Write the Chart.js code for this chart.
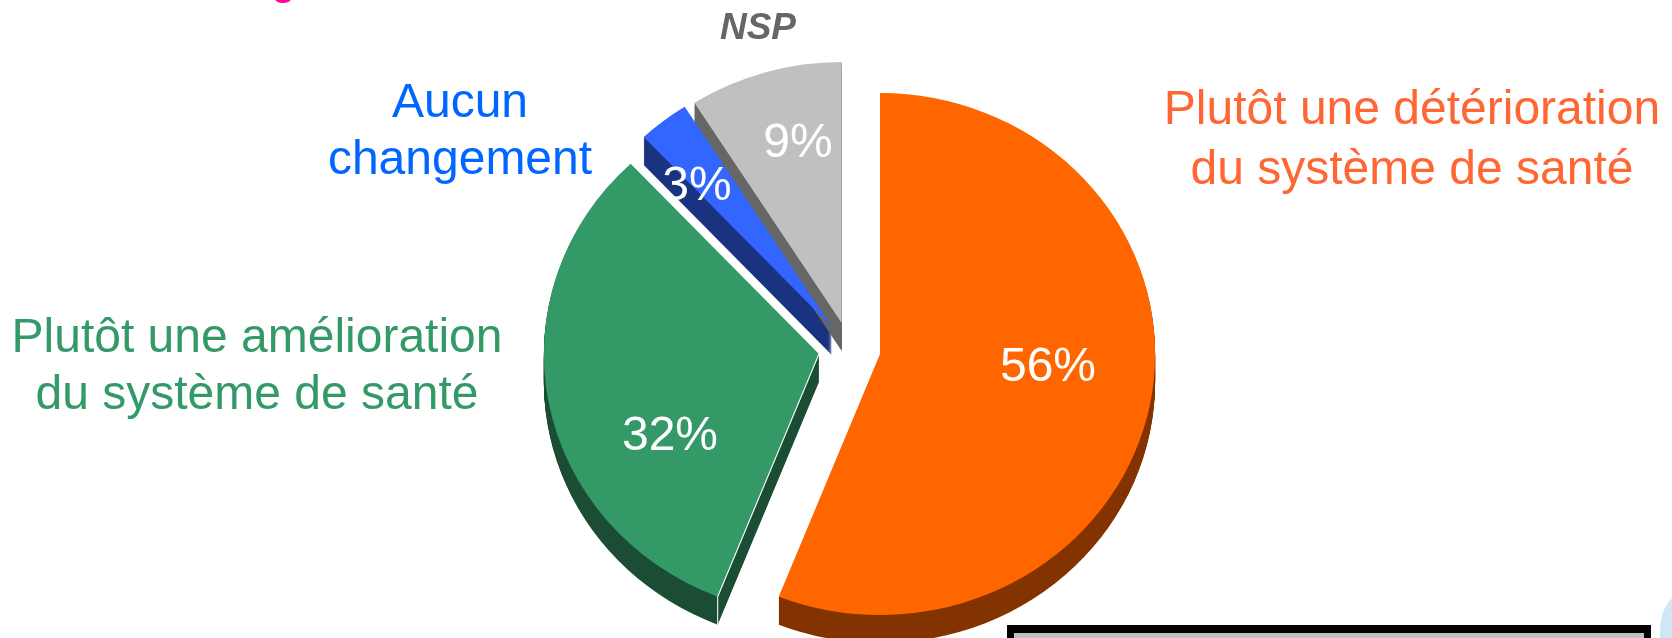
<!DOCTYPE html>
<html>
<head>
<meta charset="utf-8">
<style>
  html, body { margin: 0; padding: 0; background: #fff; overflow: hidden; }
  #wrap { position: relative; width: 1672px; height: 638px; overflow: hidden; }
  #box { position: absolute; left: 1007px; top: 625px; width: 630px; height: 30px; background: #bfbfbf; border: 7px solid #000; border-top-width: 8px; }
  #blob { position: absolute; left: 1660px; top: 590px; width: 50px; height: 120px; background: #cfe6f7; border-top-left-radius: 30px 40px; }
  #mark { position: absolute; left: 275px; top: -6px; width: 16px; height: 9px; background: #ff0099; border-radius: 50%; }
</style>
</head>
<body>
<div id="wrap">
  <canvas id="pie" width="1672" height="638"></canvas>
  <div id="box"></div>
  <div id="blob"></div>
  <div id="mark"></div>
</div>
<script src="https://cdn.jsdelivr.net/npm/chart.js@4"></script>
<script>
const categories = ["Plutôt une détérioration du système de santé", "Plutôt une amélioration du système de santé", "Aucun changement", "NSP"];
const values = [56, 32, 3, 9];
const sliceColors = ["#ff6600", "#339966", "#3366ff", "#c0c0c0"];
const wallColors = ["#833300", "#1a4d33", "#1a3380", "#666666"];
const sliceOffsets = [118, 118, 108, 106];

const FONT = '"Liberation Sans", Arial, sans-serif';
const STRETCH = 1.054;
const DEPTH = 28;

const captions = [
  { lines: ["Plutôt une détérioration", "du système de santé"], x: 1412, y: [111, 171], color: "#ff6633", font: "48px " + FONT },
  { lines: ["Plutôt une amélioration", "du système de santé"], x: 257, y: [339, 396], color: "#339966", font: "48px " + FONT },
  { lines: ["Aucun", "changement"], x: 460, y: [104, 161], color: "#0066ff", font: "48px " + FONT },
  { lines: ["NSP"], x: 758, y: [29], color: "#666666", font: "italic bold 37px " + FONT },
];
const percentSpots = [
  { x: 1048, y: 368 },
  { x: 670, y: 437 },
  { x: 697, y: 187 },
  { x: 798, y: 144 },
];

// the pie is a bit wider than tall in the original, and has a dropped wall
const tiltedPie = {
  id: "tiltedPie",
  beforeDatasetsDraw(chart) {
    const { ctx } = chart;
    const arcs = chart.getDatasetMeta(0).data;
    ctx.save();
    ctx.translate(arcs[0].x, 0);
    ctx.scale(STRETCH, 1);
    ctx.translate(-arcs[0].x, 0);
    arcs.forEach((arc, i) => {
      // ArcElement grows and narrows an offset slice depending on circumference, a quarter turn switches that off
      arc.circumference = Math.PI / 2;
      const off = arc.options.offset / 4;
      const mid = (arc.startAngle + arc.endAngle) / 2;
      const x = arc.x + Math.cos(mid) * off;
      const y = arc.y + Math.sin(mid) * off;
      ctx.fillStyle = wallColors[i];
      for (let d = 1; d <= DEPTH; d++) {
        ctx.beginPath();
        ctx.moveTo(x, y + d);
        ctx.arc(x, y + d, arc.outerRadius, arc.startAngle, arc.endAngle);
        ctx.closePath();
        ctx.fill();
      }
    });
  },
  afterDatasetsDraw(chart) {
    const { ctx } = chart;
    // thin white seam on the cut edge of the green slice
    const green = chart.getDatasetMeta(0).data[1];
    const off = green.options.offset / 4;
    const mid = (green.startAngle + green.endAngle) / 2;
    const gx = green.x + Math.cos(mid) * off;
    const gy = green.y + Math.sin(mid) * off;
    const ex = gx + Math.cos(green.startAngle) * green.outerRadius;
    const ey = gy + Math.sin(green.startAngle) * green.outerRadius;
    ctx.strokeStyle = "#ffffff";
    ctx.lineWidth = 1;
    ctx.beginPath();
    ctx.moveTo(gx, gy);
    ctx.lineTo(ex, ey);
    ctx.lineTo(ex, ey + DEPTH);
    ctx.stroke();
    ctx.restore();

    ctx.save();
    ctx.textAlign = "center";
    ctx.textBaseline = "middle";
    captions.forEach((c) => {
      ctx.fillStyle = c.color;
      ctx.font = c.font;
      c.lines.forEach((line, i) => ctx.fillText(line, c.x, c.y[i]));
    });
    ctx.fillStyle = "#ffffff";
    ctx.font = "48px " + FONT;
    values.forEach((v, i) => ctx.fillText(v + "%", percentSpots[i].x, percentSpots[i].y));
    ctx.restore();
  },
};

new Chart(document.getElementById("pie"), {
  type: "pie",
  data: {
    labels: categories,
    datasets: [
      {
        data: values,
        backgroundColor: sliceColors,
        offset: sliceOffsets,
        borderWidth: 0,
        radius: 261,
        clip: false,
      },
    ],
  },
  options: {
    responsive: false,
    animation: false,
    layout: { padding: { left: 27, top: 59, right: 0, bottom: 0 } },
    plugins: { legend: { display: false }, tooltip: { enabled: false } },
  },
  plugins: [tiltedPie],
});
</script>
</body>
</html>
